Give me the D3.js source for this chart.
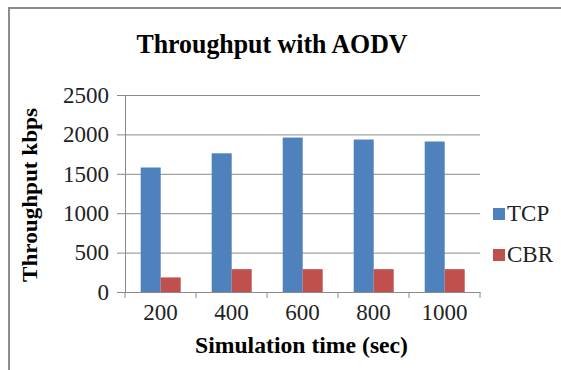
<!DOCTYPE html>
<html>
<head>
<meta charset="utf-8">
<script src="https://cdn.jsdelivr.net/npm/d3@7"></script>
<style>
  html, body { margin: 0; padding: 0; background: #fff; }
  svg { display: block; }
</style>
</head>
<body>
<div id="chart"></div>
<script>
// data
const categories = ['200', '400', '600', '800', '1000']
const seriesNames = ['TCP', 'CBR']
const tcpValues = [1580, 1760, 1960, 1935, 1910]
const cbrValues = [185, 290, 290, 290, 290]
const yTicks = [0, 500, 1000, 1500, 2000, 2500]
const colors = ['#4f81bd', '#c0504d']

const width = 561, height = 370
const plot = { left: 125, right: 480, top: 95, bottom: 292 }
const serif = '"Liberation Serif", "Times New Roman", serif'
const gridColor = '#8a8a8a'
const textColor = '#222'

const svg = d3.select('#chart').append('svg')
  .attr('width', width)
  .attr('height', height)
  .attr('font-family', serif)

// outer chart frame (only top and left edges are visible)
svg.append('path')
  .attr('d', `M9,${height} V8 H${width}`)
  .attr('fill', 'none')
  .attr('stroke', '#8c8c8c')
  .attr('stroke-width', 2)

const x = d3.scaleBand().domain(categories).range([plot.left, plot.right])
const xInner = d3.scaleBand().domain(seriesNames).range([15.7, 55.7])
const y = d3.scaleLinear().domain([0, 2500]).range([plot.bottom, plot.top])

// y axis with gridlines
const yAxis = svg.append('g')
  .attr('transform', `translate(${plot.left},0)`)
  .call(d3.axisLeft(y).tickValues(yTicks).tickFormat(d3.format('d')).tickSize(8).tickPadding(8))
  .attr('font-family', serif)
  .attr('font-size', 23)
yAxis.select('.domain').attr('stroke', gridColor)
yAxis.selectAll('.tick line').attr('stroke', gridColor)
yAxis.selectAll('.tick').append('line')
  .attr('x1', 0).attr('x2', plot.right - plot.left)
  .attr('stroke', gridColor)

// bars
const rows = categories.map((c, i) => ({ cat: c, values: [tcpValues[i], cbrValues[i]] }))
svg.append('g').selectAll('g')
  .data(rows)
  .join('g')
  .attr('transform', d => `translate(${x(d.cat)},0)`)
  .selectAll('rect')
  .data(d => d.values.map((v, j) => ({ name: seriesNames[j], value: v, color: colors[j] })))
  .join('rect')
  .attr('x', d => xInner(d.name))
  .attr('width', xInner.bandwidth())
  .attr('y', d => y(d.value))
  .attr('height', d => y(0) - y(d.value))
  .attr('fill', d => d.color)

// x axis
const xAxis = svg.append('g')
  .attr('transform', `translate(0,${plot.bottom})`)
  .call(d3.axisBottom(x).tickSize(0).tickPadding(12))
  .attr('font-family', serif)
  .attr('font-size', 23)
xAxis.select('.domain').attr('stroke', gridColor)
xAxis.selectAll('.tick text').attr('dy', '0.71em')
// category separator ticks
xAxis.selectAll('.sep')
  .data(d3.range(categories.length + 1))
  .join('line')
  .attr('class', 'sep')
  .attr('x1', i => plot.left + i * x.step())
  .attr('x2', i => plot.left + i * x.step())
  .attr('y1', 0).attr('y2', 6)
  .attr('stroke', gridColor)

svg.selectAll('.tick text')
  .style('font-family', serif)
  .style('font-size', '23px')
  .attr('fill', textColor)

// title
svg.append('text')
  .attr('x', 272).attr('y', 53)
  .attr('text-anchor', 'middle')
  .style('font-family', serif).attr('font-weight', 'bold').attr('font-size', 28)
  .attr('textLength', 271).attr('lengthAdjust', 'spacingAndGlyphs')
  .text('Throughput with AODV')

// axis titles
svg.append('text')
  .attr('transform', 'translate(37,195) rotate(-90)')
  .attr('text-anchor', 'middle')
  .style('font-family', serif).attr('font-weight', 'bold').attr('font-size', 22)
  .attr('textLength', 174).attr('lengthAdjust', 'spacingAndGlyphs')
  .text('Throughput kbps')

svg.append('text')
  .attr('x', 301.5).attr('y', 353)
  .attr('text-anchor', 'middle')
  .style('font-family', serif).attr('font-weight', 'bold').attr('font-size', 23)
  .attr('textLength', 213).attr('lengthAdjust', 'spacingAndGlyphs')
  .text('Simulation time (sec)')

// legend
const legend = svg.append('g').selectAll('g')
  .data(seriesNames)
  .join('g')
  .attr('transform', (d, i) => `translate(493,${208 + i * 41})`)
legend.append('rect')
  .attr('width', 12).attr('height', 12)
  .attr('fill', (d, i) => colors[i])
legend.append('text')
  .attr('x', 14).attr('y', 13)
  .style('font-family', serif).attr('font-size', 23).attr('fill', textColor)
  .text(d => d)
</script>
</body>
</html>
